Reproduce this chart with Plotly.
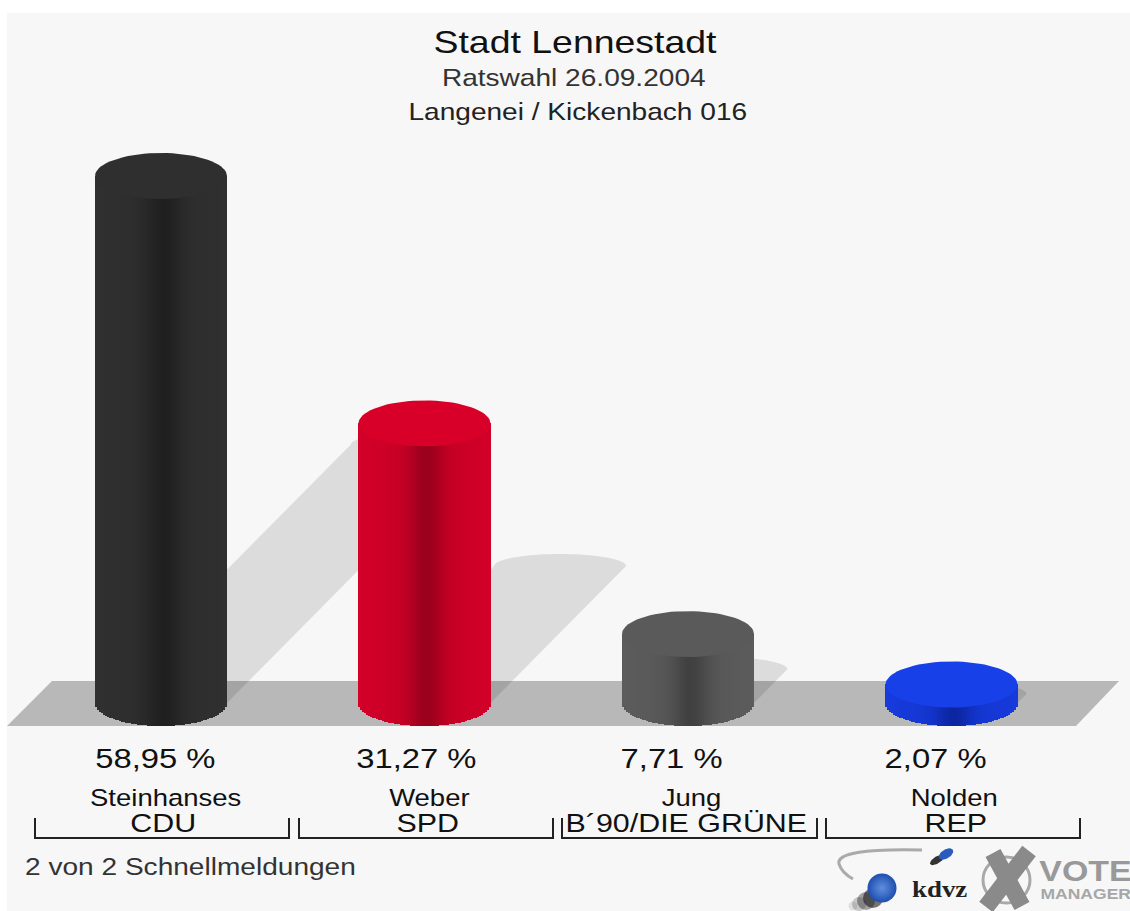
import math
import plotly.graph_objects as go

# ---- chart data ----
CANDIDATES = ["Steinhanses", "Weber", "Jung", "Nolden"]
PARTIES = ["CDU", "SPD", "B´90/DIE GRÜNE", "REP"]
VALUES = [58.95, 31.27, 7.71, 2.07]
TITLE = "Stadt Lennestadt"
SUBTITLE_1 = "Ratswahl 26.09.2004"
SUBTITLE_2 = "Langenei / Kickenbach 016"
FOOTNOTE = "2 von 2 Schnellmeldungen"

# ---- style ----
EDGE = [(0x30, 0x30, 0x30), (0xD2, 0x00, 0x28), (0x5C, 0x5C, 0x5C), (0x16, 0x3A, 0xDC)]
DARK = [(0x1F, 0x1F, 0x1F), (0x9A, 0x00, 0x1C), (0x40, 0x40, 0x40), (0x0C, 0x26, 0xA0)]
CAP = ["#2f2f2f", "#d80028", "#5a5a5a", "#1840e8"]
W, H = 1130, 911
BASE_PX, PX_PER_PCT = 703, 8.94
FIRST_PX, STEP_PX = 161, 263.5
HALF_W_PX, CAP_PX, SHADOW_CAP_PX = 66, 23, 12
SHEAR_X, SHEAR_Y = 0.485, 0.49
PCT_CX = [155, 417, 671, 935]
NAME_CX = [165, 429, 691, 954]
PARTY_CX = [163, 427, 686, 955]
BRACKETS = [(35, 289), (299, 553), (562, 817), (826, 1080)]
STRETCH = 1.17


def xd(p):
    return (p - FIRST_PX) / STEP_PX


def yd(p):
    return (BASE_PX - p) / PX_PER_PCT


def fx(p):
    return p / W


def fy(p):
    return 1 - p / H


def path(points, close=True):
    s = "M " + " L ".join(f"{fx(x):.5f},{fy(y):.5f}" for x, y in points)
    return s + (" Z" if close else "")


def mix(a, b, t):
    return "rgb(%d,%d,%d)" % tuple(round(a[i] + (b[i] - a[i]) * t) for i in range(3))


def tilted_ellipse(cx, cy, rx, ry, deg):
    r = math.radians(deg)
    xs, ys = [], []
    for k in range(49):
        t = 2 * math.pi * k / 48
        ex, ey = rx * math.cos(t), ry * math.sin(t)
        xs.append(xd(cx + ex * math.cos(r) - ey * math.sin(r)))
        ys.append(yd(cy + ex * math.sin(r) + ey * math.cos(r)))
    return xs, ys


a = HALF_W_PX / STEP_PX
b = CAP_PX / PX_PER_PCT
fig = go.Figure()

shapes = [
    dict(type="rect", xref="paper", yref="paper", x0=fx(7), x1=1, y0=0, y1=fy(13),
         fillcolor="#f7f7f7", line_width=0, layer="below"),
    dict(type="path", xref="paper", yref="paper", layer="below", fillcolor="#b8b8b8", line_width=0,
         path=path([(7, 726), (52, 681), (1119, 681), (1076, 726)])),
]

# shadows, sheared from each bar's value, drawn beneath the bars
for i, v in enumerate(VALUES):
    dx = SHEAR_X * v * PX_PER_PCT / STEP_PX
    dy = SHEAR_Y * v
    sb = SHADOW_CAP_PX / PX_PER_PCT
    pts = [(i - a, 0)]
    for k in range(41):
        th = math.pi * (1 - k / 40)
        pts.append((i + dx + a * math.cos(th), dy + sb * math.sin(th)))
    pts.append((i + a, 0))
    shapes.append(dict(type="path", xref="x", yref="y", layer="below", line_width=0,
                       fillcolor="rgba(0,0,0,0.105)",
                       path="M " + " L ".join(f"{p:.5f},{q:.5f}" for p, q in pts) + " Z"))

# cylinders: vertical colour strips with an elliptical foot, then the cap
N = 66
for i, v in enumerate(VALUES):
    sx, sh, sb_, sw, sc = [], [], [], [], []
    for k in range(N):
        u = -1 + (2 * k + 1) / N
        foot = b * math.sqrt(max(0, 1 - u * u))
        uu = u - 0.04
        t = 0.25 * (1 - min(1, abs(uu))) + 0.75 * math.exp(-(uu / 0.27) ** 2)
        sx.append(i + u * a)
        sb_.append(-foot)
        sh.append(v + foot)
        sw.append(2 * a / N * 1.02)
        sc.append(mix(EDGE[i], DARK[i], t))
    fig.add_trace(go.Bar(x=sx, y=sh, base=sb_, width=sw, marker=dict(color=sc, line=dict(width=0)),
                         hoverinfo="skip"))
    cx = [i + a * math.cos(2 * math.pi * k / 72) for k in range(73)]
    cy = [v + b * math.sin(2 * math.pi * k / 72) for k in range(73)]
    fig.add_trace(go.Scatter(x=cx, y=cy, mode="lines", fill="toself", line=dict(width=0),
                             fillcolor=CAP[i], hoverinfo="skip"))

# logo: sphere with its smear, small tilted blob with its shadow
fig.add_trace(go.Scatter(x=[xd(853), xd(859), xd(866), xd(873)], y=[yd(906), yd(904), yd(901), yd(898)],
                         mode="markers", hoverinfo="skip",
                         marker=dict(size=[9, 14, 18, 20],
                                     color=["rgba(30,30,30,0.15)", "rgba(30,30,30,0.3)",
                                            "rgba(20,20,20,0.55)", "rgba(10,10,10,0.8)"],
                                     line=dict(width=0))))
fig.add_trace(go.Scatter(x=[xd(882)], y=[yd(888)], mode="markers", hoverinfo="skip",
                         marker=dict(size=29, color="#1f4fae", line=dict(width=0),
                                     gradient=dict(type="radial", color="#5f8fe0"))))
for (ex, ey, erx, ery, col) in [(937, 860, 8, 3.5, "#333333"), (946, 854, 8, 4.5, "#2a5cc0")]:
    px_, py_ = tilted_ellipse(ex, ey, erx, ery, -32)
    fig.add_trace(go.Scatter(x=px_, y=py_, mode="lines", fill="toself", line=dict(width=0),
                             fillcolor=col, hoverinfo="skip"))

for x0, x1 in BRACKETS:
    shapes.append(dict(type="path", xref="paper", yref="paper", line=dict(color="#222222", width=2),
                       path=path([(x0, 818), (x0, 838), (x1, 838), (x1, 818)], close=False)))
# logos
shapes += [
    dict(type="path", xref="paper", yref="paper", line=dict(color="#aaaaaa", width=3),
         path=f"M {fx(922):.5f},{fy(850):.5f} Q {fx(835):.5f},{fy(848):.5f} {fx(839):.5f},{fy(864):.5f} "
              f"Q {fx(842):.5f},{fy(873):.5f} {fx(853):.5f},{fy(879):.5f}"),
    dict(type="circle", xref="paper", yref="paper", x0=fx(983), x1=fx(1030), y0=fy(903), y1=fy(857),
         line=dict(color="#a8a8a8", width=3)),
    dict(type="path", xref="paper", yref="paper", line=dict(color="#8a8a8a", width=17),
         path=path([(993, 853), (1022, 906)], close=False)),
    dict(type="path", xref="paper", yref="paper", line=dict(color="#8a8a8a", width=17),
         path=path([(1029, 851), (986, 907)], close=False)),
]


def label(text, cx, cy, size, color="#111111", family="Liberation Sans"):
    return dict(text=text, xref="paper", yref="paper", x=fx(cx), y=fy(cy), xanchor="center", yanchor="middle",
                showarrow=False, font=dict(size=size, color=color, family=family))


ann = [
    label(TITLE, 575, 42, 32),
    label(SUBTITLE_1, 574, 78, 24, "#333333"),
    label(SUBTITLE_2, 578, 112, 24, "#222222"),
    label(FOOTNOTE, 190, 866, 24, "#333333"),
    label("<b>kdvz</b>", 939, 889, 23, "#222222", "Liberation Serif"),
    label("<b>VOTE</b>", 1085, 871, 29, "#999999"),
    label("<b>MANAGER</b>", 1086, 893, 15, "#a6a6a6"),
]
for i in range(4):
    ann.append(label(f"{VALUES[i]:.2f} %".replace(".", ","), PCT_CX[i], 758, 28))
    ann.append(label(CANDIDATES[i], NAME_CX[i], 798, 23.5, "#111111"))
    ann.append(label(PARTIES[i], PARTY_CX[i], 823, 26))

fig.update_layout(
    width=W, height=H, margin=dict(l=0, r=0, t=0, b=0), autosize=False,
    paper_bgcolor="white", plot_bgcolor="rgba(0,0,0,0)", showlegend=False,
    barmode="overlay", bargap=0, bargroupgap=0,
    xaxis=dict(visible=False, range=[xd(0), xd(W)], fixedrange=True),
    yaxis=dict(visible=False, range=[yd(H), yd(0)], fixedrange=True),
    shapes=shapes, annotations=ann,
)

post = """
document.body.style.margin='0';document.documentElement.style.overflow='hidden';
document.querySelectorAll('.annotation-text').forEach(function(t){
  var b=t.getBBox(),c=b.x+b.width/2,s=%s;
  t.setAttribute('transform','translate('+(c*(1-s))+' 0) scale('+s+' 1)');
});
""" % STRETCH
fig.write_html("out.html", config={"staticPlot": True}, post_script=post)
